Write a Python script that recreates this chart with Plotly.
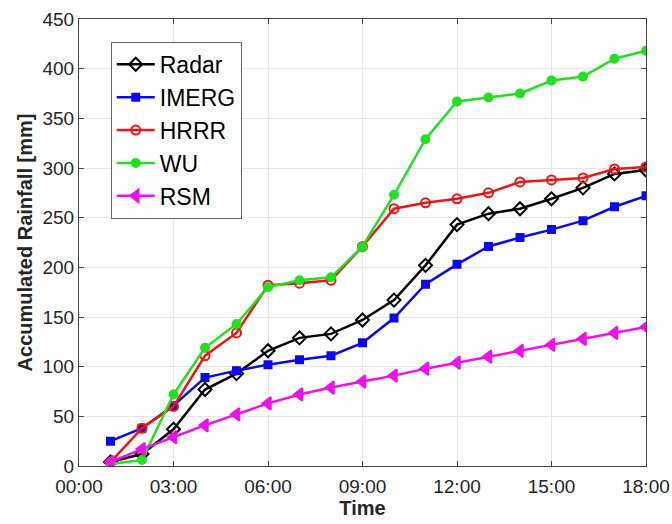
import plotly.graph_objects as go

hours = list(range(1, 19))
tick_vals = [0, 3, 6, 9, 12, 15, 18]
tick_text = ["00:00", "03:00", "06:00", "09:00", "12:00", "15:00", "18:00"]
y_ticks = [0, 50, 100, 150, 200, 250, 300, 350, 400, 450]

radar = [4, 12, 37, 77, 93, 116, 129, 133, 147, 167, 202, 243, 254, 259, 269, 280, 294, 298]
imerg = [25, 38, 61, 89, 96, 102, 107, 111, 124, 149, 183, 203, 221, 230, 238, 247, 261, 272]
hrrr = [4, 38, 60, 111, 134, 182, 184, 187, 221, 259, 265, 269, 275, 286, 288, 290, 299, 301]
wu = [2, 6, 72, 119, 143, 180, 187, 190, 221, 273, 329, 367, 371, 375, 388, 392, 410, 418]
rsm = [4, 17, 29, 41, 52, 63, 72, 79, 85, 91, 98, 104, 110, 116, 122, 128, 134, 140]

series = [
    ("Radar", radar, "#000000", "diamond-open", 10),
    ("IMERG", imerg, "#0a0aee", "square", 7),
    ("HRRR", hrrr, "#ee1515", "circle-open", 9),
    ("WU", wu, "#22e022", "circle", 8),
    ("RSM", rsm, "#ee11ee", "triangle-left", 11),
]

fig = go.Figure()
for name, vals, color, sym, sz in series:
    fig.add_trace(go.Scatter(
        x=hours, y=vals, name=name, mode="lines+markers",
        line=dict(color=color, width=2.5),
        marker=dict(symbol=sym, size=sz, color=color,
                    line=dict(color=color, width=2)),
    ))

FONT = "Liberation Sans, Arial, sans-serif"
axis_common = dict(
    showline=True, linecolor="#444444", linewidth=1, mirror="ticks",
    ticks="inside", ticklen=5, tickcolor="#444444",
    showgrid=True, gridcolor="#e6e6e6", gridwidth=1,
    zeroline=False, automargin=False,
    tickfont=dict(family=FONT, size=19, color="#262626"),
)

fig.update_layout(
    width=672, height=524,
    margin=dict(l=79, r=26, t=19, b=58),
    paper_bgcolor="white", plot_bgcolor="white",
    font=dict(family=FONT, color="#262626"),
    xaxis=dict(range=[0, 18], tickvals=tick_vals, ticktext=tick_text,
               ticklabelstandoff=3,
               title=dict(text="<b>Time</b>", font=dict(size=20, color="#262626"), standoff=2),
               **axis_common),
    yaxis=dict(range=[0, 450], tickvals=y_ticks,
               title=dict(text="<b>Accumulated Rainfall [mm]</b>", font=dict(size=20, color="#262626"), standoff=4),
               **axis_common),
    legend=dict(
        x=0.056, y=0.949, xanchor="left", yanchor="top",
        bgcolor="white", bordercolor="#666666", borderwidth=1,
        font=dict(family=FONT, size=23, color="#000000"),
        itemwidth=38, tracegroupgap=0,
    ),
    showlegend=True,
)

fig.write_html("out.html")
